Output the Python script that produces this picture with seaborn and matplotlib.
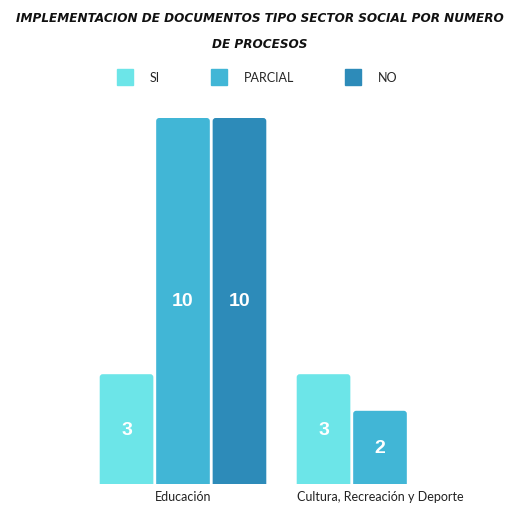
import matplotlib
matplotlib.use("Agg")
import matplotlib.pyplot as plt
from matplotlib.lines import Line2D
from matplotlib.patches import FancyBboxPatch
import seaborn as sns
import pandas as pd

categories = ['Educación', 'Cultura, Recreación y Deporte']
series = ['SI', 'PARCIAL', 'NO']
si = [3, 3]
parcial = [10, 2]
no = [10, 0]
colors = ['#6ce5e8', '#41b6d6', '#2d8bb9']

df = pd.DataFrame({
    'Categoria': categories * 3,
    'Serie': ['SI'] * 2 + ['PARCIAL'] * 2 + ['NO'] * 2,
    'Valor': si + parcial + no,
})

sns.set_theme(style='white')
plt.rcParams['font.family'] = ['Lato', 'DejaVu Sans']

fig = plt.figure(figsize=(5.06, 5.10), dpi=100)
ax = fig.add_axes([84.5 / 506, 25 / 510, 394 / 506, 366 / 510])

sns.barplot(data=df, x='Categoria', y='Valor', hue='Serie', hue_order=series,
            palette=colors, width=0.86, gap=0.05, saturation=1, legend=False,
            linewidth=0, ax=ax)

ax.set_ylim(0, 10)
ax.set_xlim(-0.5, 1.5)

# swap the plain rectangles for ones with slightly rounded top corners
px_x = 2.0 / 394
px_y = 10.0 / 366
for bar in list(ax.patches):
    h = bar.get_height()
    if h <= 0:
        bar.set_visible(False)
        continue
    x, w = bar.get_x(), bar.get_width()
    rb = FancyBboxPatch((x, -0.3), w, h + 0.3,
                        boxstyle=f'round,pad=0,rounding_size={3 * px_x}',
                        mutation_aspect=px_y / px_x,
                        facecolor=bar.get_facecolor(), linewidth=0, zorder=bar.get_zorder())
    ax.add_patch(rb)
    bar.set_visible(False)

for cont in ax.containers:
    labels = [f'{v:g}' if v > 0 else '' for v in cont.datavalues]
    ax.bar_label(cont, labels=labels, label_type='center', color='white',
                 fontsize=14, fontweight='bold', family=['Liberation Sans', 'DejaVu Sans'])

ax.set_xlabel('')
ax.set_ylabel('')
ax.set_yticks([])
ax.tick_params(axis='x', length=0, pad=4, labelsize=9, labelcolor='#222222')
sns.despine(ax=ax, left=True, bottom=True)

title_kw = dict(ha='center', va='center', fontsize=9.6, fontweight='bold', fontstyle='italic',
                fontstretch='condensed', family=['DejaVu Sans'], color='#111111')
fig.text(260 / 506, 1 - 18 / 510, 'IMPLEMENTACION DE DOCUMENTOS TIPO SECTOR SOCIAL POR NUMERO', **title_kw)
fig.text(260 / 506, 1 - 44 / 510, 'DE PROCESOS', **title_kw)

handles = [Line2D([], [], marker='s', linestyle='', markersize=11.5, color=c) for c in colors]
fig.legend(handles, series, loc='center', bbox_to_anchor=(258 / 506, 1 - 78 / 510),
           ncol=3, frameon=False, fontsize=9, handlelength=1, handletextpad=1.5,
           columnspacing=4.2)

fig.savefig('out.png', dpi=100)
